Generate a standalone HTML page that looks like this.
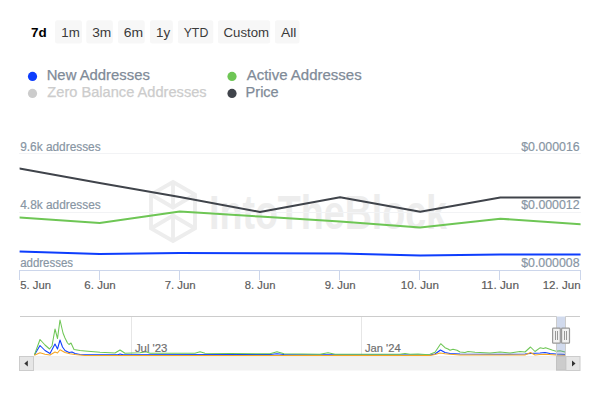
<!DOCTYPE html>
<html><head><meta charset="utf-8">
<style>
html,body{margin:0;padding:0;background:#fff;width:600px;height:400px;overflow:hidden;}
svg{position:absolute;left:0;top:0;}
svg text{font-family:"Liberation Sans",sans-serif;}
</style></head><body>
<svg width="600" height="400" viewBox="0 0 600 400">
<rect x="55" y="20.2" width="27" height="23.3" rx="2.5" fill="#f7f7f7"/>
<rect x="86.3" y="20.2" width="26.5" height="23.3" rx="2.5" fill="#f7f7f7"/>
<rect x="118" y="20.2" width="26.7" height="23.3" rx="2.5" fill="#f7f7f7"/>
<rect x="150" y="20.2" width="22.8" height="23.3" rx="2.5" fill="#f7f7f7"/>
<rect x="177.9" y="20.2" width="35.4" height="23.3" rx="2.5" fill="#f7f7f7"/>
<rect x="217.9" y="20.2" width="52.3" height="23.3" rx="2.5" fill="#f7f7f7"/>
<rect x="274.9" y="20.2" width="24.6" height="23.3" rx="2.5" fill="#f7f7f7"/>
<circle cx="32.5" cy="76.4" r="4.6" fill="#0d3dfd"/>
<circle cx="32.5" cy="93.4" r="4.6" fill="#cccccc"/>
<circle cx="232" cy="76.4" r="4.6" fill="#6ec655"/>
<circle cx="232" cy="93.4" r="4.6" fill="#40444b"/>
<g fill="none" stroke="#ededed" stroke-width="3.8" stroke-linejoin="miter" stroke-linecap="butt">
<polygon points="173,182 195,194.5 195,228.5 173,241 151,228.5 151,194.5"/>
<polyline points="151,194.5 173,207.5 195,194.5"/>
<line x1="173" y1="182" x2="173" y2="207.5"/>
<polyline points="151,228.5 173,215.5 195,228.5"/>
<line x1="173" y1="215.5" x2="173" y2="241"/>
</g>
<text x="209" y="228.5" font-size="48" font-weight="bold" fill="#ededed" textLength="238" lengthAdjust="spacingAndGlyphs">IntoTheBlock</text>
<g stroke="#f2f3f5" stroke-width="1"><line x1="19" y1="153.5" x2="581" y2="153.5"/><line x1="19" y1="212.5" x2="581" y2="212.5"/></g>
<g stroke="#ccd6eb" stroke-width="1"><line x1="19" y1="270.5" x2="581" y2="270.5"/><line x1="19.5" y1="270" x2="19.5" y2="280"/><line x1="99.5" y1="270" x2="99.5" y2="280"/><line x1="179.5" y1="270" x2="179.5" y2="280"/><line x1="259.5" y1="270" x2="259.5" y2="280"/><line x1="339.5" y1="270" x2="339.5" y2="280"/><line x1="419.5" y1="270" x2="419.5" y2="280"/><line x1="499.5" y1="270" x2="499.5" y2="280"/><line x1="580.5" y1="270" x2="580.5" y2="280"/></g>
<clipPath id="pc"><rect x="19.6" y="120" width="561" height="160"/></clipPath><g clip-path="url(#pc)" fill="none" stroke-width="2" stroke-linejoin="round" stroke-linecap="round">
<polyline stroke="#40444b" points="19.50,168.40 99.64,182.90 179.78,197.10 259.92,211.90 340.06,197.30 420.20,211.70 500.34,197.40 580.48,197.40"/>
<polyline stroke="#6ec655" points="19.50,217.50 99.64,223.10 179.78,211.50 259.92,216.60 340.06,221.60 420.20,227.60 500.34,218.70 580.48,224.30"/>
<polyline stroke="#0d3dfd" points="19.50,251.60 99.64,254.00 179.78,253.00 259.92,253.30 340.06,253.40 420.20,255.40 500.34,254.40 580.48,254.60"/>
</g>
<g stroke="#e6e6e6" stroke-width="1"><line x1="131.5" y1="316" x2="131.5" y2="356"/><line x1="361.5" y1="316" x2="361.5" y2="356"/></g>
<g fill="none" stroke-width="1.05" stroke-linejoin="round">
<polyline stroke="#0d3dfd" points="34.4,355 40,345.5 45,350.5 50,353.5 55,344 57.5,349 60,340 62.5,347 65,350.5 69,352.5 72,352 75,353.5 80,354.5 85,354.8 118,354.8 120,354 123,354.8 270,354.5 277,353.8 284,354.5 430,355 435,354 440.5,350 445,352.5 450,353.5 460,354 500,354.3 525,354 530,353.5 540,353 545,352.5 550,353.5 556,354 566,354.5"/>
<polyline stroke="#6ec655" points="34.4,355 40,339.5 45,345 49.5,349 52,346 55,329 57.5,338.5 60,320 63,333 65,338 67.5,343 69,344.5 71,343 74,349.5 80,350.5 85,351 100,352.3 115,353 120,350 125,353.3 140,352.8 146,351.8 150,353.3 195,353.3 200,351.7 205,353.3 270,353.8 277,351.7 284,353.8 320,354.3 328,352.8 335,354.2 400,354.2 405,353.6 410,354.3 418,354 425,354.4 430,354.3 435,352.3 440.7,343.7 445,347.7 448,349 450,350.3 453,349.2 457,350.2 460,352 465,352.5 468,351.5 475,352.3 490,353 500,352 510,353 520,351.5 525,352 530.5,347 535,351.5 540,347.8 543.5,348.5 545.5,347.8 552,350 556,351.2 560,350.8 566,352.2"/>
<polyline stroke="#f5a623" points="34.4,355.3 40,352.8 45,354.3 50,355 55,352 57.5,353 60,349.7 65,352.5 70,353.8 75,354.6 85,355.5 430,355.5 435,354.5 440,353 445,353.8 450,354.3 460,355 525,355 530.5,352.5 535,355 540,354.5 545,354.3 556,355 566,355.2"/>
</g>
<text id="b7d" x="30.99" y="37.10" font-size="13.2" fill="#000000" font-weight="bold" textLength="15.65" lengthAdjust="spacingAndGlyphs">7d</text>
<text id="b1m" x="61.26" y="37.00" font-size="13.2" fill="#3a3a3a" textLength="18.48" lengthAdjust="spacingAndGlyphs">1m</text>
<text id="b3m" x="92.19" y="37.00" font-size="13.2" fill="#3a3a3a" textLength="19.13" lengthAdjust="spacingAndGlyphs">3m</text>
<text id="b6m" x="123.81" y="37.00" font-size="13.2" fill="#3a3a3a" textLength="19.36" lengthAdjust="spacingAndGlyphs">6m</text>
<text id="b1y" x="155.96" y="37.00" font-size="13.2" fill="#3a3a3a" textLength="14.18" lengthAdjust="spacingAndGlyphs">1y</text>
<text id="bytd" x="183.65" y="36.80" font-size="13.2" fill="#3a3a3a" textLength="24.64" lengthAdjust="spacingAndGlyphs">YTD</text>
<text id="bcus" x="223.47" y="36.85" font-size="13.2" fill="#3a3a3a" textLength="45.59" lengthAdjust="spacingAndGlyphs">Custom</text>
<text id="ball" x="280.93" y="37.00" font-size="13.2" fill="#3a3a3a" textLength="15.48" lengthAdjust="spacingAndGlyphs">All</text>
<text id="lnew" x="46.65" y="79.80" font-size="14.3" fill="#7f8b98" textLength="103.24" lengthAdjust="spacingAndGlyphs" stroke="#7f8b98" stroke-width="0.25">New Addresses</text>
<text id="lzero" x="47.33" y="96.80" font-size="14.3" fill="#cccccc" textLength="159.33" lengthAdjust="spacingAndGlyphs" stroke="#cccccc" stroke-width="0.25">Zero Balance Addresses</text>
<text id="lact" x="246.66" y="80.10" font-size="14.3" fill="#7f8b98" textLength="115.06" lengthAdjust="spacingAndGlyphs" stroke="#7f8b98" stroke-width="0.25">Active Addresses</text>
<text id="lprice" x="245.61" y="96.80" font-size="14.3" fill="#7f8b98" textLength="33.09" lengthAdjust="spacingAndGlyphs" stroke="#7f8b98" stroke-width="0.25">Price</text>
<text id="a96" x="20.15" y="151.00" font-size="12" fill="#8795a3" textLength="80.52" lengthAdjust="spacingAndGlyphs" stroke="#8795a3" stroke-width="0.18">9.6k addresses</text>
<text id="a48" x="20.28" y="209.00" font-size="12" fill="#8795a3" textLength="80.51" lengthAdjust="spacingAndGlyphs" stroke="#8795a3" stroke-width="0.18">4.8k addresses</text>
<text id="a0" x="20.17" y="266.80" font-size="12" fill="#8795a3" textLength="52.95" lengthAdjust="spacingAndGlyphs" stroke="#8795a3" stroke-width="0.18">addresses</text>
<text id="r16" x="521.24" y="151.00" font-size="12" fill="#8795a3" textLength="58.48" lengthAdjust="spacingAndGlyphs" stroke="#8795a3" stroke-width="0.18">$0.000016</text>
<text id="r12" x="521.23" y="209.00" font-size="12" fill="#8795a3" textLength="58.38" lengthAdjust="spacingAndGlyphs" stroke="#8795a3" stroke-width="0.18">$0.000012</text>
<text id="r08" x="521.23" y="266.90" font-size="12" fill="#8795a3" textLength="58.33" lengthAdjust="spacingAndGlyphs" stroke="#8795a3" stroke-width="0.18">$0.000008</text>
<text id="x5" x="20.26" y="289.00" font-size="11.6" fill="#5c5c5c" textLength="30.80" lengthAdjust="spacingAndGlyphs" stroke="#5c5c5c" stroke-width="0.18">5. Jun</text>
<text id="x6" x="84.36" y="289.00" font-size="11.6" fill="#5c5c5c" textLength="31.32" lengthAdjust="spacingAndGlyphs" stroke="#5c5c5c" stroke-width="0.18">6. Jun</text>
<text id="x7" x="164.65" y="289.00" font-size="11.6" fill="#5c5c5c" textLength="31.08" lengthAdjust="spacingAndGlyphs" stroke="#5c5c5c" stroke-width="0.18">7. Jun</text>
<text id="x8" x="244.83" y="289.00" font-size="11.6" fill="#5c5c5c" textLength="30.55" lengthAdjust="spacingAndGlyphs" stroke="#5c5c5c" stroke-width="0.18">8. Jun</text>
<text id="x9" x="324.63" y="289.00" font-size="11.6" fill="#5c5c5c" textLength="31.04" lengthAdjust="spacingAndGlyphs" stroke="#5c5c5c" stroke-width="0.18">9. Jun</text>
<text id="x10" x="400.87" y="289.00" font-size="11.6" fill="#5c5c5c" textLength="38.11" lengthAdjust="spacingAndGlyphs" stroke="#5c5c5c" stroke-width="0.18">10. Jun</text>
<text id="x11" x="481.15" y="289.00" font-size="11.6" fill="#5c5c5c" textLength="37.87" lengthAdjust="spacingAndGlyphs" stroke="#5c5c5c" stroke-width="0.18">11. Jun</text>
<text id="x12" x="542.71" y="289.00" font-size="11.6" fill="#5c5c5c" textLength="37.87" lengthAdjust="spacingAndGlyphs" stroke="#5c5c5c" stroke-width="0.18">12. Jun</text>
<text id="njul" x="134.92" y="351.80" font-size="11.8" fill="#6e6e6e" textLength="32.51" lengthAdjust="spacingAndGlyphs" stroke="#6e6e6e" stroke-width="0.18">Jul '23</text>
<text id="njan" x="364.94" y="351.80" font-size="11.8" fill="#6e6e6e" textLength="35.70" lengthAdjust="spacingAndGlyphs" stroke="#6e6e6e" stroke-width="0.18">Jan '24</text>
<rect x="556" y="316.5" width="10" height="39.5" fill="rgba(102,133,194,0.3)"/>
<path d="M20,316.5 L556.5,316.5 L556.5,356 M565.5,356 L565.5,316.5 L580,316.5" fill="none" stroke="#cccccc" stroke-width="1"/>
<g fill="#f2f2f2" stroke="#999999" stroke-width="1.2">
<rect x="552.6" y="328.2" width="7.7" height="15" rx="0.8"/>
<rect x="561.6" y="328.2" width="7.9" height="15" rx="0.8"/>
</g>
<g stroke="#999999" stroke-width="1">
<line x1="555.5" y1="331" x2="555.5" y2="340"/><line x1="557.5" y1="331" x2="557.5" y2="340"/>
<line x1="564.5" y1="331" x2="564.5" y2="340"/><line x1="566.5" y1="331" x2="566.5" y2="340"/>
</g>
<rect x="20" y="356" width="560" height="14.5" fill="#f2f2f2"/>
<line x1="20" y1="356.5" x2="580" y2="356.5" stroke="#eeeeee" stroke-width="1"/>
<rect x="556" y="356" width="10" height="14.5" fill="#cccccc"/>
<rect x="556.5" y="356.5" width="9" height="13.5" fill="none" stroke="#c2c2c2" stroke-width="1"/>
<rect x="19.5" y="356.5" width="14" height="14" fill="#e6e6e6" stroke="#cccccc" stroke-width="1"/>
<rect x="566" y="356.5" width="14" height="14" fill="#e6e6e6" stroke="#cccccc" stroke-width="1"/>
<path d="M24.3,363.6 L27.8,360.6 L27.8,366.6 Z" fill="#333"/>
<path d="M575.5,363.6 L572,360.6 L572,366.6 Z" fill="#333"/>
</svg>
</body></html>
